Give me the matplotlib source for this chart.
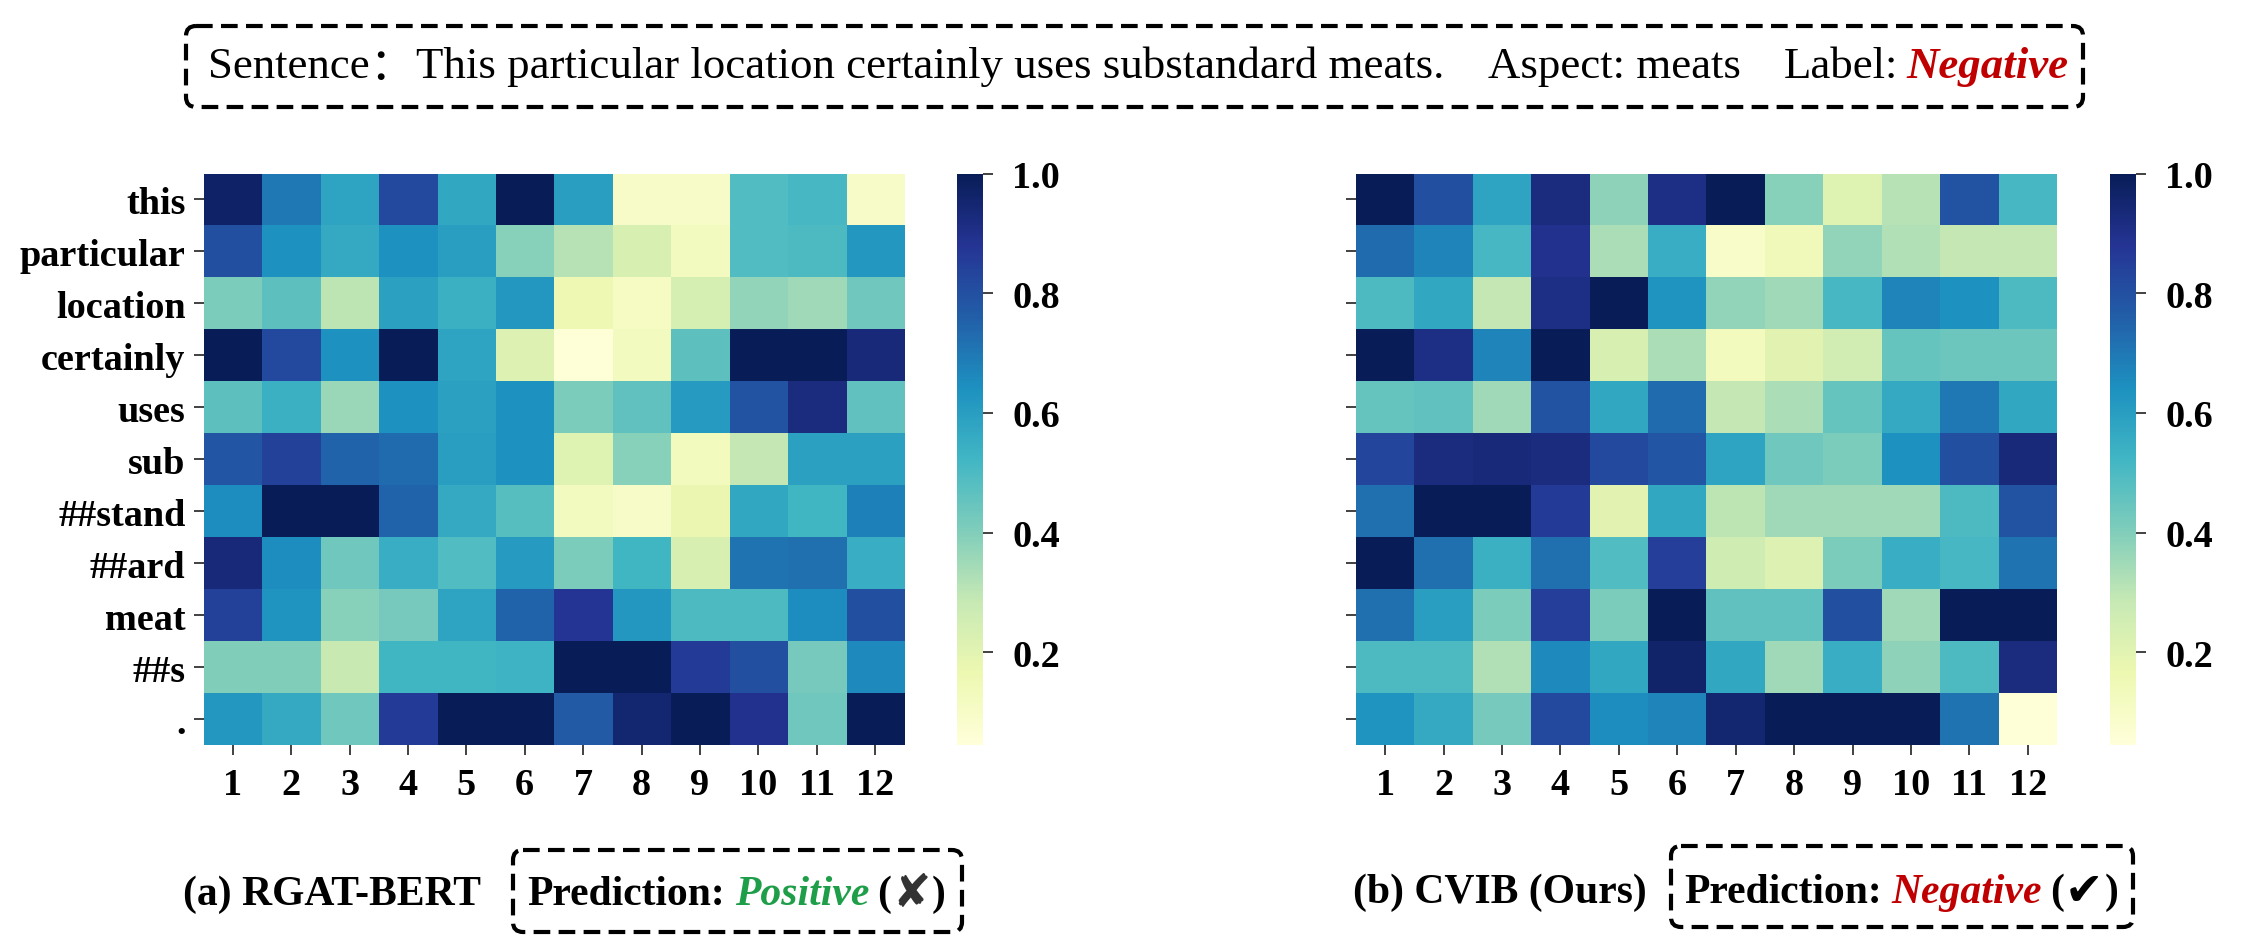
import numpy as np
import matplotlib
matplotlib.use("Agg")
import matplotlib.pyplot as plt
from matplotlib.patches import FancyBboxPatch

# ---------------- data ----------------
tokens = ["this", "particular", "location", "certainly", "uses", "sub",
          "##stand", "##ard", "meat", "##s", "."]
layers = [str(i) for i in range(1, 13)]
cbar_ticks = [0.2, 0.4, 0.6, 0.8, 1.0]

rgat_bert = [
    [0.97, 0.70, 0.58, 0.82, 0.57, 1.00, 0.60, 0.10, 0.10, 0.49, 0.51, 0.10],
    [0.80, 0.64, 0.56, 0.64, 0.60, 0.39, 0.31, 0.23, 0.12, 0.49, 0.50, 0.62],
    [0.41, 0.47, 0.30, 0.59, 0.54, 0.62, 0.16, 0.11, 0.24, 0.37, 0.35, 0.43],
    [1.00, 0.82, 0.64, 1.00, 0.58, 0.22, 0.05, 0.12, 0.47, 1.00, 1.00, 0.93],
    [0.47, 0.54, 0.36, 0.64, 0.59, 0.64, 0.41, 0.46, 0.61, 0.79, 0.92, 0.46],
    [0.78, 0.84, 0.75, 0.73, 0.60, 0.64, 0.21, 0.39, 0.13, 0.29, 0.59, 0.59],
    [0.65, 1.00, 1.00, 0.75, 0.56, 0.48, 0.12, 0.10, 0.17, 0.57, 0.52, 0.68],
    [0.93, 0.65, 0.43, 0.55, 0.49, 0.61, 0.41, 0.52, 0.23, 0.71, 0.72, 0.55],
    [0.84, 0.63, 0.39, 0.42, 0.58, 0.75, 0.88, 0.62, 0.50, 0.50, 0.65, 0.80],
    [0.40, 0.40, 0.28, 0.52, 0.52, 0.53, 1.00, 1.00, 0.86, 0.80, 0.42, 0.66],
    [0.62, 0.56, 0.43, 0.86, 1.00, 1.00, 0.77, 0.95, 1.00, 0.89, 0.43, 1.00],
]

cvib = [
    [1.00, 0.80, 0.58, 0.92, 0.38, 0.91, 1.00, 0.39, 0.21, 0.31, 0.79, 0.51],
    [0.73, 0.67, 0.51, 0.89, 0.33, 0.55, 0.09, 0.14, 0.37, 0.32, 0.29, 0.29],
    [0.50, 0.57, 0.29, 0.91, 1.00, 0.63, 0.37, 0.35, 0.51, 0.67, 0.64, 0.50],
    [1.00, 0.91, 0.67, 1.00, 0.23, 0.33, 0.13, 0.20, 0.25, 0.45, 0.44, 0.44],
    [0.45, 0.46, 0.35, 0.79, 0.57, 0.73, 0.29, 0.33, 0.45, 0.56, 0.70, 0.57],
    [0.83, 0.92, 0.93, 0.92, 0.82, 0.78, 0.58, 0.43, 0.41, 0.64, 0.80, 0.93],
    [0.72, 1.00, 1.00, 0.86, 0.20, 0.57, 0.30, 0.35, 0.35, 0.35, 0.50, 0.79],
    [1.00, 0.72, 0.54, 0.72, 0.49, 0.85, 0.26, 0.22, 0.41, 0.55, 0.51, 0.71],
    [0.72, 0.60, 0.41, 0.85, 0.41, 1.00, 0.46, 0.46, 0.80, 0.35, 1.00, 1.00],
    [0.50, 0.50, 0.32, 0.66, 0.57, 0.96, 0.57, 0.35, 0.55, 0.38, 0.50, 0.92],
    [0.63, 0.56, 0.42, 0.82, 0.65, 0.67, 0.95, 1.00, 1.00, 1.00, 0.71, 0.05],
]

sentence = "This particular location certainly uses substandard meats."
aspect = "meats"
gold_label = "Negative"
models = ["(a) RGAT-BERT", "(b) CVIB (Ours)"]
predictions = ["Positive", "Negative"]
pred_colors = ["#1e9e48", "#c00000"]
pred_marks = ["\u2718", "\u2714"]

# ---------------- figure ----------------
W, H = 2245, 953
DPI = 100
fig = plt.figure(figsize=(W / DPI, H / DPI), dpi=DPI)
SERIF = ["Liberation Serif", "DejaVu Serif"]
plt.rcParams["font.family"] = SERIF

VMIN, VMAX = 0.045, 1.0
cmap = "YlGnBu"
TICK_FS = 27.5


def fx(x):
    return x / W


def fy(y):
    return 1 - y / H


hm_top, hm_bot = 174.5, 746.0
hm_w = 701.0
panels = [
    (rgat_bert, 203.5, 957.0, True),
    (cvib, 1356.0, 2110.0, False),
]
for data, x0, cx0, show_labels in panels:
    arr = np.array(data)
    ax = fig.add_axes([fx(x0), fy(hm_bot), hm_w / W, (hm_bot - hm_top) / H])
    im = ax.imshow(arr, cmap=cmap, vmin=VMIN, vmax=VMAX, aspect="auto",
                   interpolation="nearest")
    for s in ax.spines.values():
        s.set_visible(False)
    ax.set_xticks(range(len(layers)))
    ax.set_xticklabels(layers, fontsize=TICK_FS, fontweight="bold", family=SERIF)
    ax.set_yticks(range(len(tokens)))
    if show_labels:
        ax.set_yticklabels(tokens, fontsize=TICK_FS, fontweight="bold", family=SERIF)
    else:
        ax.set_yticklabels([])
    ax.tick_params(axis="both", length=7, width=1.3, color="#333333", pad=6)
    ax.tick_params(axis="x", pad=9)

    cax = fig.add_axes([fx(cx0), fy(hm_bot), 26 / W, (hm_bot - hm_top) / H])
    cb = fig.colorbar(im, cax=cax, ticks=cbar_ticks)
    cb.outline.set_visible(False)
    cb.ax.set_yticklabels([f"{t:.1f}" for t in cbar_ticks], fontsize=TICK_FS,
                          fontweight="bold", family=SERIF)
    cb.ax.tick_params(length=7, width=1.3, color="#333333", pad=14)

# overlay in pixel coordinates
ov = fig.add_axes([0, 0, 1, 1], zorder=5)
ov.set_xlim(0, W)
ov.set_ylim(H, 0)
ov.axis("off")
ov.patch.set_alpha(0)

renderer = fig.canvas.get_renderer()


def seg_text(segments, x_left, y):
    """segments: list of (text, kwargs, gap_px). Draw left to right."""
    x = x_left
    for txt, kw, gap in segments:
        t = ov.text(x, y, txt, ha="left", va="center", **kw)
        bb = t.get_window_extent(renderer=renderer)
        x += bb.width + gap
    return x


def seg_width(segments):
    total = 0
    for txt, kw, gap in segments:
        t = ov.text(0, 0, txt, **kw)
        total += t.get_window_extent(renderer=renderer).width
        t.remove()
    return total


def box(x0, y0, x1, y1):
    p = FancyBboxPatch((x0, y0), x1 - x0, y1 - y0,
                       boxstyle="round,pad=0,rounding_size=10",
                       fill=False, edgecolor="black", linewidth=3.0,
                       linestyle=(0, (4, 2)))
    ov.add_patch(p)


# top box
box(186, 27, 2083, 108)


def top_segments(fs):
    reg = dict(fontsize=fs, family=SERIF, color="black")
    return [
        ("Sentence", reg, 0),
        ("\uff1a", dict(fontsize=fs, family=["Noto Sans CJK SC", "DejaVu Sans"],
                        color="black"), 2),
        (sentence, reg, 43),
        ("Aspect: " + aspect, reg, 43),
        ("Label:", reg, 8),
        (gold_label, dict(fontsize=fs, family=SERIF, color="#c00000",
                          style="italic", fontweight="bold"), 0),
    ]


fs0 = 30.0
gaps = 2 + 43 + 43 + 8
natural = seg_width(top_segments(fs0))
fs_top = fs0 * (2069 - 208 - gaps) / natural
seg_text(top_segments(fs_top), 208, 67)

# bottom captions
CAP_FS = 30
bold = dict(fontsize=CAP_FS, family=SERIF, fontweight="bold", color="black")
cap_layout = [
    (183, 895, (513, 851, 962, 933), 527),
    (1353, 893, (1671, 847, 2133, 928), 1684),
]
for i, (cx, cy, bx, px) in enumerate(cap_layout):
    ov.text(cx, cy, models[i], ha="left", va="center", **bold)
    box(*bx)
    seg_text([
        ("Prediction:", bold, 10),
        (predictions[i], dict(fontsize=CAP_FS, family=SERIF, fontweight="bold",
                              style="italic", color=pred_colors[i]), 8),
        ("(", bold, 1),
        (pred_marks[i], dict(fontsize=33, family=["DejaVu Sans"],
                             color="#333333" if i == 0 else "black"), 1),
        (")", bold, 0),
    ], px, cy)

fig.savefig("out.png", dpi=DPI)
